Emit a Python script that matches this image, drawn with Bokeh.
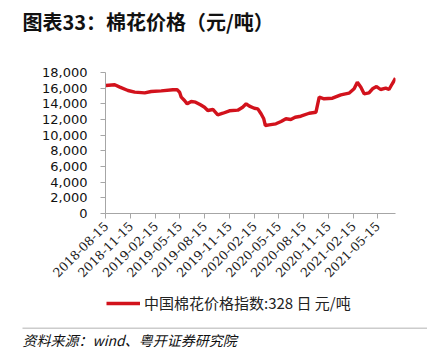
import math
from datetime import datetime
from bokeh.plotting import figure
from bokeh.layouts import column
from bokeh.models import (ColumnDataSource, FixedTicker, DatetimeTickFormatter, Range1d,
                          NumeralTickFormatter, Label, BoxAnnotation, Legend, LegendItem)
from bokeh.embed import file_html
from bokeh.resources import INLINE

# ---- data ----
dates = ["2018-08-15", "2018-09-17", "2018-10-06", "2018-11-05", "2018-11-30", "2019-01-06",
         "2019-01-30", "2019-03-08", "2019-04-20", "2019-05-06", "2019-05-15", "2019-05-21",
         "2019-06-02", "2019-06-12", "2019-06-27", "2019-07-13", "2019-07-31", "2019-08-15",
         "2019-08-27", "2019-09-15", "2019-10-03", "2019-10-22", "2019-11-15", "2019-12-16",
         "2020-01-03", "2020-01-16", "2020-01-28", "2020-02-15", "2020-02-28", "2020-03-11",
         "2020-03-21", "2020-03-27", "2020-04-10", "2020-05-05", "2020-05-24", "2020-06-11",
         "2020-06-29", "2020-07-15", "2020-08-05", "2020-09-05", "2020-09-30", "2020-10-12",
         "2020-10-30", "2020-11-30", "2020-12-31", "2021-01-30", "2021-02-18", "2021-03-02",
         "2021-03-15", "2021-03-27", "2021-04-14", "2021-04-27", "2021-05-12", "2021-05-27",
         "2021-06-15", "2021-06-27", "2021-07-09", "2021-07-21"]
prices = [16340, 16430, 16130, 15700, 15490, 15400,
          15570, 15660, 15790, 15790, 15490, 14850,
          14430, 14000, 14300, 14210, 13880, 13570,
          13150, 13280, 12600, 12800, 13110, 13190,
          13570, 14000, 13700, 13440, 13360, 12730,
          12090, 11230, 11320, 11450, 11740, 12090,
          12000, 12290, 12420, 12800, 12930, 14850,
          14640, 14720, 15150, 15360, 15920, 16760,
          16130, 15280, 15400, 15920, 16210, 15830,
          16000, 15830, 16560, 17270]
tick_dates = ["2018-08-15", "2018-11-15", "2019-02-15", "2019-05-15", "2019-08-15", "2019-11-15",
              "2020-02-15", "2020-05-15", "2020-08-15", "2020-11-15", "2021-02-15", "2021-05-15"]
y_ticks = [0, 2000, 4000, 6000, 8000, 10000, 12000, 14000, 16000, 18000]
series_name = "中国棉花价格指数:328 日 元/吨"
title_text = "图表33：棉花价格（元/吨）"
source_text = "资料来源：wind、粤开证券研究院"

RED = "#D2121C"
GREY = "#A6A6A6"
W = 427
H_TOP, H_MAIN, H_BOT = 40, 250, 60


def to_ms(s):
    return datetime.strptime(s, "%Y-%m-%d").timestamp() * 1000.0


def blank(height):
    f = figure(width=W, height=height, x_axis_type=None, y_axis_type=None,
               output_backend="svg", toolbar_location=None, min_border=0,
               x_range=Range1d(0, W), y_range=Range1d(height, 0), frame_align=False)
    f.outline_line_color = None
    f.grid.visible = False
    return f


# ---- title strip ----
top = blank(H_TOP)
top.add_layout(Label(x=22, y=6, text=title_text, text_font="Noto Sans CJK SC",
                     text_font_style="bold", text_font_size="20px",
                     text_baseline="top", text_color="#111111"))

# ---- main chart ----
xs = [datetime.strptime(d, "%Y-%m-%d") for d in dates]
src = ColumnDataSource(dict(x=xs, y=prices))

p = figure(width=W, height=H_MAIN, x_axis_type="datetime", output_backend="svg",
           toolbar_location=None, min_border_left=105, min_border_right=W - 395,
           min_border_top=72 - H_TOP, min_border_bottom=H_TOP + H_MAIN - 213,
           frame_align=False)
p.x_range = Range1d(to_ms("2018-08-14"), to_ms("2021-07-21"))
p.y_range = Range1d(0, 18000)
p.outline_line_color = None
p.grid.visible = False

p.line("x", "y", source=src, line_color=RED, line_width=3.4)

xa = p.xaxis[0]
xa.ticker = FixedTicker(ticks=[to_ms(t) for t in tick_dates])
fmt = "%Y-%m-%d"
xa.formatter = DatetimeTickFormatter(milliseconds=fmt, seconds=fmt, minsec=fmt, minutes=fmt,
                                     hourmin=fmt, hours=fmt, days=fmt, months=fmt, years=fmt)
xa.major_label_orientation = math.pi / 4
xa.major_label_text_font = "DejaVu Serif"
xa.major_label_text_font_size = "12.5px"
xa.major_label_text_color = "#222222"
xa.major_label_standoff = 5
xa.axis_line_color = GREY
xa.major_tick_line_color = GREY
xa.major_tick_out = 5
xa.major_tick_in = 0
xa.minor_tick_line_color = None

ya = p.yaxis[0]
ya.ticker = FixedTicker(ticks=y_ticks)
ya.formatter = NumeralTickFormatter(format="0,0")
ya.major_label_text_font = "DejaVu Sans"
ya.major_label_text_font_size = "13px"
ya.major_label_text_color = "#111111"
ya.major_label_standoff = 13
ya.axis_line_color = GREY
ya.major_tick_line_color = GREY
ya.major_tick_out = 5
ya.major_tick_in = 0
ya.minor_tick_line_color = None

# ---- legend + source strip ----
bot = blank(H_BOT)
key = bot.line("x", "y", source=src, line_color=RED, line_width=3.4)
leg = Legend(items=[LegendItem(label=series_name, renderers=[key])],
             location=(106, H_BOT - 23), glyph_width=34, glyph_height=14,
             label_height=14, label_standoff=4, padding=0, margin=0, spacing=0,
             border_line_color=None, background_fill_alpha=0,
             label_text_font="Noto Sans CJK SC", label_text_font_size="15px",
             label_text_color="#222222", label_text_baseline="middle")
bot.add_layout(leg, "center")
bot.add_layout(BoxAnnotation(left=22, right=W, top=37, bottom=38.5,
                             fill_color="#CCCCCC", fill_alpha=1, line_color=None))
bot.add_layout(Label(x=22, y=49, text=source_text, text_font="Noto Sans CJK SC",
                     text_font_style="italic", text_font_size="14px",
                     text_baseline="middle", text_color="#111111"))

layout = column(top, p, bot, spacing=0)
open("out.html", "w").write(file_html(layout, INLINE))
